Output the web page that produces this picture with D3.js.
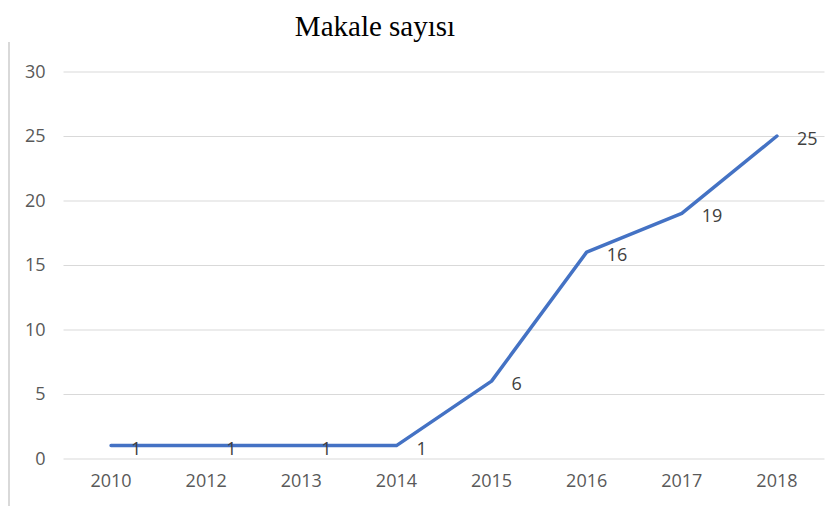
<!DOCTYPE html>
<html>
<head>
<meta charset="utf-8">
<script src="https://cdn.jsdelivr.net/npm/d3@7"></script>
<style>
	body { margin: 0; background: #fff; }
	svg { display: block; }
</style>
</head>
<body>
<svg id="chart" width="839" height="506"></svg>
<script>
// chart data
const years = ['2010', '2012', '2013', '2014', '2015', '2016', '2017', '2018']
const counts = [1, 1, 1, 1, 6, 16, 19, 25]
const yTicks = [0, 5, 10, 15, 20, 25, 30]
const title = 'Makale sayısı'

const svg = d3.select('#chart')
const width = 839
const height = 506

const x = d3.scaleBand().domain(years).range([63.5, 824.5])
const y = d3.scaleLinear().domain([0, 30]).range([458.5, 71.5])
const cx = d => x(d) + x.bandwidth() / 2

// left frame edge
svg.append('line')
	.attr('x1', 9).attr('x2', 9)
	.attr('y1', 42).attr('y2', height)
	.attr('stroke', '#d9d9d9')
	.attr('stroke-width', 2)

svg.append('text')
	.attr('x', 375)
	.attr('y', 36)
	.attr('text-anchor', 'middle')
	.attr('font-family', '"Liberation Serif", serif')
	.attr('font-size', 29)
	.attr('fill', '#000')
	.text(title)

// gridlines + y labels
const yAxis = d3.axisLeft(y).tickValues(yTicks).tickSize(-(824.5 - 63.5)).tickPadding(18)
const gy = svg.append('g').attr('transform', 'translate(63.5,0)').call(yAxis)
gy.select('.domain').remove()
gy.selectAll('.tick line').attr('stroke', '#d9d9d9')
gy.selectAll('.tick text')
	.attr('fill', '#595959')
	.attr('font-family', '"Open Sans", sans-serif')
	.attr('font-size', 18)

// x labels
const xAxis = d3.axisBottom(x).tickSize(0).tickPadding(16)
const gx = svg.append('g').attr('transform', 'translate(0,458.5)').call(xAxis)
gx.select('.domain').remove()
gx.selectAll('.tick text')
	.attr('fill', '#595959')
	.attr('font-family', '"Open Sans", sans-serif')
	.attr('font-size', 18)

const line = d3.line()
	.x((d, i) => cx(years[i]))
	.y(d => y(d))

svg.append('path')
	.datum(counts)
	.attr('d', line)
	.attr('fill', 'none')
	.attr('stroke', '#4472c4')
	.attr('stroke-width', 3.5)
	.attr('stroke-linejoin', 'round')
	.attr('stroke-linecap', 'round')

// data labels
svg.append('g').selectAll('text')
	.data(counts)
	.join('text')
	.attr('x', (d, i) => cx(years[i]) + 20)
	.attr('y', d => y(d) + 2)
	.attr('dominant-baseline', 'central')
	.attr('fill', '#404040')
	.attr('font-family', '"Open Sans", sans-serif')
	.attr('font-size', 18)
	.text(d => d)
</script>
</body>
</html>
